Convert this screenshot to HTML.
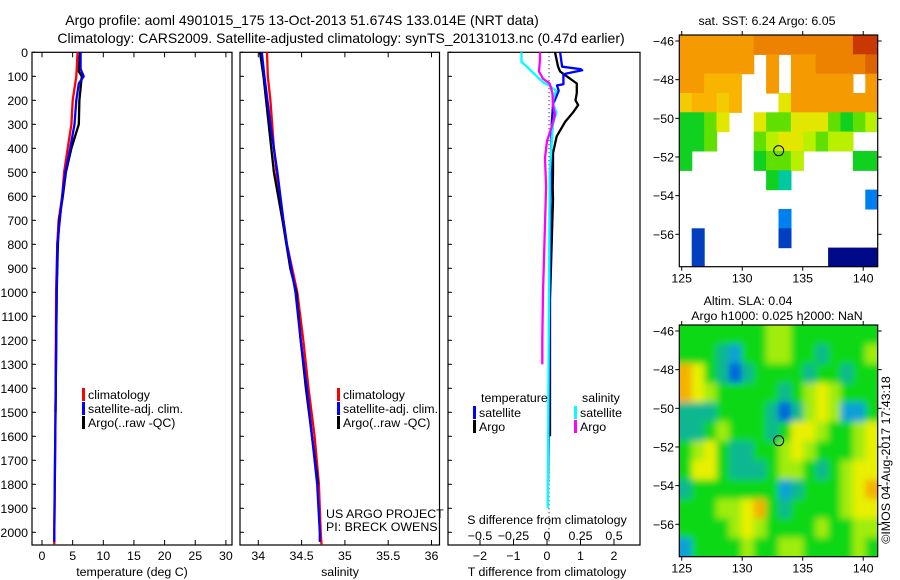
<!DOCTYPE html>
<html><head><meta charset="utf-8"><style>
body{margin:0;background:#fff;}
svg{display:block;font-family:"Liberation Sans",sans-serif;}
</style></head><body>
<svg id="fig" width="900" height="580" viewBox="0 0 900 580" xmlns="http://www.w3.org/2000/svg">
<defs><filter id="blur" x="-5%" y="-5%" width="110%" height="110%"><feGaussianBlur stdDeviation="3.5"/></filter></defs>
<rect width="900" height="580" fill="#fff"/>
<text x="302" y="25" font-size="14" text-anchor="middle">Argo profile: aoml 4901015_175 13-Oct-2013 51.674S 133.014E (NRT data)</text>
<text x="341" y="43" font-size="14" text-anchor="middle">Climatology: CARS2009. Satellite-adjusted climatology: synTS_20131013.nc (0.47d earlier)</text>
<g id="g"></g>
</svg>
<script>
// ---------- data ----------
const depthTicks=[0,100,200,300,400,500,600,700,800,900,1000,1100,1200,1300,1400,1500,1600,1700,1800,1900,2000];
const tempTicks=[0,5,10,15,20,25,30];
const salTicks=[34,34.5,35,35.5,36];
const tdiffTicks=[-2,-1,0,1,2];
const sdiffTicks=[-0.5,-0.25,0,0.25,0.5];
const sdiffLabels=["\u22120.5","\u22120.25","0","0.25","0.5"];
const tdiffLabels=["\u22122","\u22121","0","1","2"];
// temperature profiles [depth, value]
const tempClimDepth=[0,100,200,300,400,500,600,700,800,1000,1500,2000,2050];
const tempClimVal=[5.8,5.6,5.0,4.8,4.2,3.6,3.3,2.7,2.5,2.3,2.2,2.0,2.0];
const tempSatDepth=[0,70,100,130,200,300,400,500,600,700,800,1000,1500,2000,2040];
const tempSatVal=[6.3,6.3,6.8,6.0,5.6,5.3,4.6,3.8,3.3,2.9,2.5,2.4,2.2,2.0,2.0];
const tempArgoDepth=[0,80,100,200,300,400,500,600,700,800,1000,1500];
const tempArgoVal=[6.2,6.0,6.5,6.1,6.0,4.8,3.9,3.4,2.8,2.6,2.4,2.2];
// salinity profiles
const salClimDepth=[0,100,200,300,400,500,600,700,800,900,1000,1200,1400,1600,1800,2000,2050];
const salClimVal=[34.10,34.11,34.14,34.16,34.18,34.21,34.24,34.29,34.33,34.39,34.45,34.52,34.58,34.65,34.70,34.72,34.73];
const salSatDepth=[0,100,300,500,700,800,1000,1200,1400,1600,1800,2000,2040];
const salSatVal=[34.04,34.07,34.14,34.22,34.29,34.33,34.43,34.49,34.56,34.62,34.68,34.71,34.71];
const salArgoDepth=[0,100,300,500,700,900,1000,1200,1400,1600,1800];
const salArgoVal=[34.02,34.06,34.12,34.18,34.28,34.37,34.44,34.49,34.55,34.62,34.69];
// difference profiles
const dTSatDepth=[0,60,70,75,88,92,133,138,160,218,300,600,1000,1500,1800];
const dTSatVal=[0.39,0.45,1.0,1.05,0.6,0.49,0.49,0.3,0.35,0.18,0.14,0.1,0.08,0.06,0.03];
const dTArgoDepth=[0,60,80,100,130,170,200,220,250,290,350,420,500,560,615,1030,1450,1600];
const dTArgoVal=[0.24,0.33,0.39,0.59,0.89,0.89,0.85,0.93,0.78,0.54,0.29,0.18,0.18,0.17,0.18,0.09,0.09,0.09];
const dSSatDepth=[0,40,60,100,125,140,160,200,220,250,300,380,500,560,1000,1500,1900];
const dSSatVal=[-0.19,-0.19,-0.15,-0.076,-0.03,0.02,0.067,0.045,0.05,0.07,0.045,0.035,0.02,0.02,0.015,0.01,0.005];
const dSArgoDepth=[0,30,80,110,130,170,220,260,320,370,440,560,1000,1200,1300];
const dSArgoVal=[-0.052,-0.052,-0.06,-0.03,0.02,0.04,0.045,0.06,0.03,0,-0.015,-0.007,-0.03,-0.035,-0.035];
// maps
const mapLonTicks=[125,130,135,140];
const mapLatTicks=[-46,-48,-50,-52,-54,-56];
const N=null;
const sstGrid=[
[7.5,7.5,7.5,7.5,7.5,7.5,7.6,7.6,7.6,7.6,7.8,7.8,7.8,7.9,8.6,8.8],
[7.3,7.4,7.3,7.2,7.3,7.4,N,7.4,N,7.4,7.5,7.6,7.6,7.7,7.8,8.2],
[7.2,7.3,7.0,7.1,7.1,N,N,7.2,N,7.3,7.3,7.4,7.4,7.4,N,7.5],
[6.8,6.9,6.9,6.8,6.9,N,N,N,6.5,7.2,7.2,7.3,7.2,7.3,7.4,7.3],
[5.4,5.4,5.5,6.4,N,N,6.3,5.6,5.5,6.5,6.4,6.4,5.5,5.4,5.5,6.2],
[5.2,5.3,5.5,N,N,N,5.6,6.2,6.3,6.3,6.2,5.5,6.0,6.0,N,N],
[5.2,N,N,N,N,N,5.3,5.5,5.6,6.0,N,N,N,N,5.4,5.3],
[N,N,N,N,N,N,N,5.3,4.5,N,N,N,N,N,N,N],
[N,N,N,N,N,N,N,N,N,N,N,N,N,N,N,2.0],
[N,N,N,N,N,N,N,N,2.0,N,N,N,N,N,N,N],
[N,1.0,N,N,N,N,N,N,1.5,N,N,N,N,N,N,N],
[N,1.0,N,N,N,N,N,N,N,N,N,N,0.3,0.4,0.4,0.3]];
const slaGrid=[
[0,0,0,0,0,0,0,1,1,0,0,0,0,0,0,0],
[0,0,0,-1,-2,0,0,1,1,0,0,-1,0,0,0,1],
[3,2,0,-1,-3,-1,0,0,0,0,-1,0,0,-1,0,0],
[3,2,1,0,0,0,0,0,-1,0,1,2,1,0,0,0],
[-1,-1,-1,0,0,0,0,-1,-3,-1,1,2,1,-2,-2,0],
[-1,-1,0,1,0,0,0,-1,0,2,2,1,0,0,1,2],
[0,1,2,0,-1,-1,0,0,1,2,1,0,0,0,1,2],
[0,2,2,0,-1,-1,-1,0,1,1,0,-1,0,1,2,2],
[-1,0,0,0,0,0,0,0,-2,-1,0,0,0,1,2,3],
[0,0,0,1,1,2,3,0,-1,0,0,0,0,1,2,2],
[0,0,0,0,1,2,1,0,0,0,0,1,0,0,1,1],
[-2,0,0,0,0,1,0,0,1,1,0,0,0,0,1,0]];
const floatLon=133.014, floatLat=-51.674;

// ---------- helpers ----------
const NS="http://www.w3.org/2000/svg";
const G=document.getElementById('g');
const FS=12.4;
function el(tag,attrs,parent){const e=document.createElementNS(NS,tag);for(const k in attrs)e.setAttribute(k,attrs[k]);(parent||G).appendChild(e);return e;}
function txt(x,y,s,anchor,size,parent){const t=el('text',{x:x,y:y,'font-size':size||FS,'text-anchor':anchor||'middle'},parent);t.textContent=s;return t;}
const TOP=52.3, BOT=545;
const yD=d=>TOP+d*0.24;
const xT=v=>42+v*6.13;
const xS=v=>258.3+(v-34)*86.6;
const xDT=v=>547+v*33.5;
const xDS=v=>547+v*134;

const panels=[[32,232],[240,439.5],[448,640]];
panels.forEach((p,i)=>{
  const r=el('rect',{x:p[0],y:TOP,width:p[1]-p[0],height:BOT-TOP,fill:'none',stroke:'#000','stroke-width':1.2});
  
  
  depthTicks.forEach(d=>{el('line',{x1:p[0],x2:p[0]+4,y1:yD(d),y2:yD(d),stroke:'#000'});});
});
depthTicks.forEach(d=>{
  const t=txt(28,yD(d)+4.5,String(d),'end',FS);
  
  
});
function xticks(vals,labels,fx,ylab,both){
  vals.forEach((v,i)=>{
    const x=fx(v);
    el('line',{x1:x,x2:x,y1:BOT,y2:BOT-5,stroke:'#000'});
    if(both) el('line',{x1:x,x2:x,y1:TOP,y2:TOP+5,stroke:'#000'});
    const t=txt(x,ylab,labels[i],'middle',FS);
    
    
  });
}
xticks(tempTicks,tempTicks.map(String),xT,560,true);
xticks(salTicks,salTicks.map(String),xS,560,true);
xticks(tdiffTicks,tdiffLabels,xDT,560,false);
sdiffTicks.forEach((v,i)=>{
  const x=xDS(v);
  el('line',{x1:x,x2:x,y1:BOT,y2:BOT-4,stroke:'#000'});
  const t=txt(x,540,sdiffLabels[i],'middle',FS);
  
  
});
let t;
t=txt(132,576,'temperature (deg C)');
t=txt(340,576,'salinity');
t=txt(547,576,'T difference from climatology');
t=txt(547,524,'S difference from climatology');
const zl=el('line',{x1:xDT(0)+2,x2:xDT(0)+2,y1:TOP,y2:BOT,stroke:'#000','stroke-dasharray':'1,3'});



function line(depths,vals,fx,color,name,w){
  const pts=depths.map((d,i)=>fx(vals[i]).toFixed(1)+','+yD(d).toFixed(1)).join(' ');
  const p=el('polyline',{points:pts,fill:'none',stroke:color,'stroke-width':w||2.3,'stroke-linejoin':'round'});
  
  
}
line(tempClimDepth,tempClimVal,xT,'#f00','temp-climatology-line');
line(tempArgoDepth,tempArgoVal,xT,'#000','temp-argo-line');
line(tempSatDepth,tempSatVal,xT,'#00f','temp-satellite-line');
line(salClimDepth,salClimVal,xS,'#f00','salinity-climatology-line');
line(salArgoDepth,salArgoVal,xS,'#000','salinity-argo-line');
line(salSatDepth,salSatVal,xS,'#00f','salinity-satellite-line');
line(dTArgoDepth,dTArgoVal,xDT,'#000','t-diff-argo-line');
line(dTSatDepth,dTSatVal,xDT,'#00f','t-diff-satellite-line');
line(dSSatDepth,dSSatVal,xDS,'#0ff','s-diff-satellite-line');
line(dSArgoDepth,dSArgoVal,xDS,'#f0f','s-diff-argo-line');

function legend(x,y,color,label,name){
  const r=el('rect',{x:x,y:y-10,width:3,height:13,fill:color});
  
  
  const tt=txt(x+6,y+1,label,'start',FS);
  
  
}
legend(82,398,'#f00','climatology','legend-temp-climatology');
legend(82,412,'#00f','satellite-adj. clim.','legend-temp-satellite');
legend(82,426,'#000','Argo(..raw -QC)','legend-temp-argo');
legend(337,398,'#f00','climatology','legend-sal-climatology');
legend(337,412,'#00f','satellite-adj. clim.','legend-sal-satellite');
legend(337,426,'#000','Argo(..raw -QC)','legend-sal-argo');
t=txt(481,402,'temperature','start',FS);
t=txt(582,402,'salinity','start',FS);
legend(473,416,'#00f','satellite','legend-t-diff-satellite');
legend(473,430,'#000','Argo','legend-t-diff-argo');
legend(574,416,'#0ff','satellite','legend-s-diff-satellite');
legend(574,430,'#f0f','Argo','legend-s-diff-argo');
t=txt(326,518,'US ARGO PROJECT','start',FS);
t=txt(326,531,'PI: BRECK OWENS','start',FS);

// ---------- maps ----------
const ML=679.3, MR=877.7, LON0=124.8, LON1=141.2;
const xLon=l=>ML+(l-LON0)*12.1;
function sstColor(v){
  if(v>=8.5)return '#c83800';if(v>=8.0)return '#dc6400';if(v>=7.6)return '#ec8200';if(v>=7.2)return '#f59a00';
  if(v>=6.9)return '#f8b400';if(v>=6.6)return '#f2cc00';if(v>=6.3)return '#e2e600';if(v>=5.9)return '#b8f000';
  if(v>=5.5)return '#60e000';if(v>=5.1)return '#10d020';if(v>=4.2)return '#00c8a0';if(v>=1.8)return '#0080f0';
  if(v>=0.8)return '#0040c0';return '#000a88';
}
function slaColor(v){
  return {'-3':'#0060e0','-2':'#10a0d8','-1':'#10b890','0':'#10d818','1':'#a0ec10','2':'#e8f000','3':'#f5b000'}[String(v)];
}
function drawMap(top,grid,colorFn,name,blur){
  const yLat=l=>top+6+(-46-l)*19.33;
  const latTop=-46+(6/19.33);
  const bottom=top+231.7;
  const cw=(LON1-LON0)/16, ch=1;
  const cid='clip-'+name;
  const cp=el('clipPath',{id:cid});
  el('rect',{x:ML,y:top,width:MR-ML,height:bottom-top},cp);
  const outer=el('g',{'clip-path':'url(#'+cid+')'});
  if(blur) el('rect',{x:ML,y:top,width:MR-ML,height:bottom-top,fill:'#10d818'},outer);
  const g=el('g',blur?{filter:'url(#blur)'}:{},outer);
  
  
  grid.forEach((row,r)=>row.forEach((v,c)=>{
    if(v===null)return;
    const lon=LON0+c*cw, lat=latTop-r*ch;
    let x=xLon(lon), y=yLat(lat), w=cw*12.1+0.6, h=ch*19.33+0.6;
    if(blur){ if(c===0){x-=10;w+=10;} if(c===15)w+=10; if(r===0){y-=10;h+=10;} if(r===11)h+=10; }
    const rc=el('rect',{x:x.toFixed(1),y:y.toFixed(1),width:w.toFixed(1),height:h.toFixed(1),fill:colorFn(v)},g);
    
    
  }));
  const fr=el('rect',{x:ML,y:top,width:MR-ML,height:bottom-top,fill:'none',stroke:'#000','stroke-width':1.2});
  
  
  mapLatTicks.forEach(l=>{
    const y=yLat(l);
    el('line',{x1:ML-4,x2:ML,y1:y,y2:y,stroke:'#000'});
    el('line',{x1:MR,x2:MR+4,y1:y,y2:y,stroke:'#000'});
    const tt=txt(674,y+4.5,String(l).replace('-','\u2212'),'end',FS);
    
    
  });
  mapLonTicks.forEach(l=>{
    const x=xLon(l);
    el('line',{x1:x,x2:x,y1:bottom,y2:bottom+4,stroke:'#000'});
    el('line',{x1:x,x2:x,y1:top-4,y2:top,stroke:'#000'});
    const tt=txt(x,bottom+16,String(l),'middle',FS);
    
    
  });
  const m=el('circle',{cx:xLon(floatLon),cy:yLat(floatLat),r:5,fill:'none',stroke:'#000','stroke-width':1});
  
  
}
drawMap(35,sstGrid,sstColor,'sst-map',false);
drawMap(325,slaGrid,slaColor,'sla-map',true);
t=txt(767,25,'sat. SST: 6.24 Argo: 6.05','middle',FS);
t=txt(748,305,'Altim. SLA: 0.04','middle',FS);
t=txt(777,320,'Argo h1000: 0.025 h2000: NaN','middle',FS);
t=txt(0,0,'\u00a9IMOS 04-Aug-2017 17:43:18','middle',FS);
t.setAttribute('transform','translate(890,460) rotate(-90)');

</script>
</body></html>
